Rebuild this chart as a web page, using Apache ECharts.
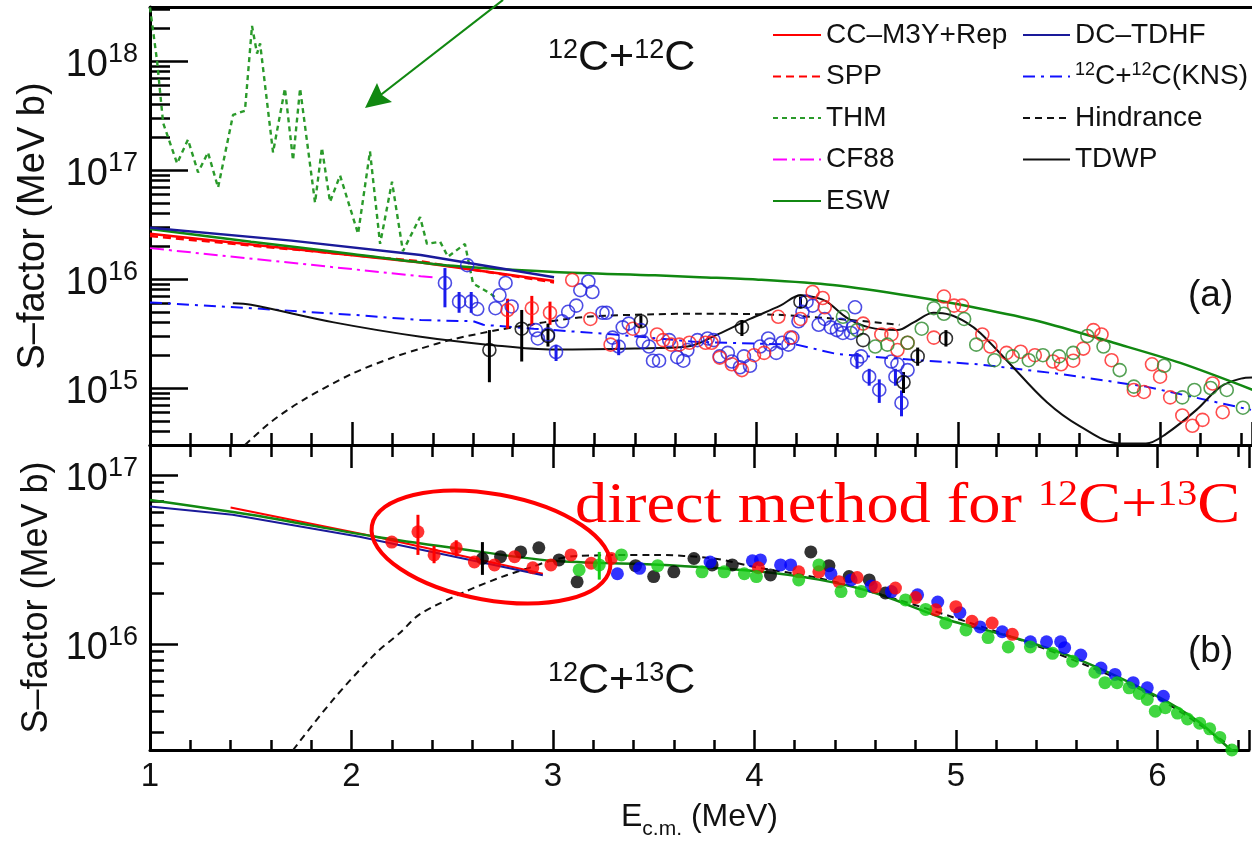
<!DOCTYPE html>
<html>
<head>
<meta charset="utf-8">
<script src="https://cdn.jsdelivr.net/npm/echarts@6/dist/echarts.min.js"></script>
<style>
  html, body { margin: 0; padding: 0; background: #fff; }
  #chart { width: 1252px; height: 843px; }
</style>
</head>
<body>
<div id="chart"></div>
<script>
// ---------- panel (a): 12C+12C ----------
var ccA = [[1, 2.6e16], [2.34, 1.42e16], [3.0, 9.6e15]];
var sppA = [[1, 2.48e16], [2.34, 1.45e16], [3.0, 9.3e15]];
var cf88A = [[1, 1.92e16], [2.34, 1.06e16], [2.42, 1.03e16]];
var tdhfA = [[1, 2.95e16], [1.7, 2.25e16], [2.34, 1.66e16], [3.0, 1.04e16]];
var eswA = [[1, 2.88e16], [1.5, 2.2e16], [2.0, 1.7e16], [2.5, 1.32e16], [3.0, 1.16e16], [3.5, 1.08e16],
  [3.72, 1.04e16], [4.0, 9.9e15], [4.38, 8.8e15], [4.78, 6.9e15], [5.1, 5.4e15], [5.4, 4.1e15],
  [5.77, 2.6e15], [6.1, 1.7e15], [6.46, 9.6e14]];
var knsA = [[1, 6.1e15], [1.5, 5.4e15], [2.0, 4.7e15], [2.34, 4.2e15], [2.6, 4.1e15], [2.65, 3.8e15],
  [2.9, 3.5e15], [3.3, 3.1e15], [3.7, 2.65e15], [4.2, 2.5e15], [4.4, 2.05e15], [4.8, 1.8e15],
  [5.1, 1.65e15], [5.5, 1.35e15], [5.93, 1.03e15], [6.45, 6.3e14]];
var hindA = [[1.47, 3.0e14], [1.6, 4.9e14], [1.76, 7.8e14], [2.0, 1.35e15], [2.2, 1.9e15], [2.34, 2.3e15],
  [2.5, 2.8e15], [2.72, 3.4e15], [2.95, 4.0e15], [3.16, 4.5e15], [3.5, 4.75e15], [3.72, 4.8e15],
  [4.1, 4.7e15], [4.47, 4.2e15], [4.71, 3.8e15]];
var tdwpA = [[1.41, 6.0e15], [1.5, 5.8e15], [1.91, 4.0e15], [2.34, 2.95e15], [2.67, 2.5e15], [3.0, 2.25e15],
  [3.4, 2.3e15], [3.66, 2.4e15], [3.81, 3.1e15], [3.97, 4.3e15], [4.12, 5.7e15], [4.22, 7.1e15],
  [4.29, 6.8e15], [4.35, 6.2e15], [4.45, 4.4e15], [4.56, 3.6e15], [4.70, 3.4e15], [4.78, 4.0e15],
  [4.88, 4.9e15], [4.96, 4.7e15], [5.04, 4.0e15], [5.11, 3.2e15], [5.24, 1.8e15], [5.44, 7.4e14],
  [5.6, 4.5e14], [5.8, 3.1e14], [5.93, 3.1e14], [6.03, 3.8e14], [6.18, 6.3e14], [6.3, 1.03e15],
  [6.4, 1.22e15], [6.46, 1.25e15]];
var thmA = [[1.0, 3.1e18], [1.035, 1.0e18], [1.065, 2.7e17], [1.134, 1.15e17], [1.188, 1.9e17],
  [1.238, 9.5e16], [1.287, 1.45e17], [1.337, 6.9e16], [1.411, 3.2e17], [1.47, 3.5e17], [1.505, 2.1e18],
  [1.53, 1.17e18], [1.545, 1.45e18], [1.609, 1.45e17], [1.668, 5.6e17], [1.708, 1.23e17], [1.743, 5.6e17],
  [1.817, 5.0e16], [1.851, 1.6e17], [1.891, 5.1e16], [1.941, 8.9e16], [2.03, 2.6e16], [2.089, 1.48e17],
  [2.139, 2.1e16], [2.198, 7.8e16], [2.252, 1.8e16], [2.337, 3.7e16], [2.371, 2.1e16], [2.436, 2.2e16],
  [2.475, 1.6e16], [2.559, 2.1e16], [2.599, 9.1e15], [2.683, 7.4e15], [2.708, 6.8e15]];

var blueA = [[2.46, 9.2e15], [2.57, 1.34e16], [2.53, 6.2e15], [2.59, 6.2e15], [2.62, 5.3e15], [2.71, 5.4e15],
  [2.73, 7.1e15], [2.76, 9.2e15], [2.79, 5.6e15], [2.91, 3.4e15], [2.92, 2.85e15], [2.97, 3.1e15],
  [3.01, 2.14e15], [3.04, 4.1e15], [3.07, 5.0e15], [3.11, 5.7e15], [3.13, 7.9e15], [3.17, 9.5e15],
  [3.19, 7.6e15], [3.24, 4.9e15], [3.26, 4.9e15], [3.29, 2.9e15], [3.32, 2.4e15], [3.34, 3.6e15],
  [3.37, 3.9e15], [3.43, 3.4e15], [3.44, 2.65e15], [3.47, 2.4e15], [3.49, 1.78e15], [3.52, 1.78e15],
  [3.57, 2.75e15], [3.61, 1.92e15], [3.64, 1.78e15], [3.66, 2.23e15], [3.71, 2.75e15], [3.76, 2.85e15],
  [3.79, 2.75e15], [3.82, 1.95e15], [3.86, 2.1e15], [3.88, 1.75e15], [3.92, 1.55e15], [3.94, 1.95e15],
  [3.97, 1.6e15], [4.02, 2.4e15], [4.06, 2.85e15], [4.07, 2.5e15], [4.10, 2.1e15], [4.13, 2.6e15],
  [4.16, 2.5e15], [4.18, 2.9e15], [4.21, 4.1e15], [4.23, 5.0e15], [4.25, 6.2e15], [4.28, 5.7e15],
  [4.31, 3.8e15], [4.34, 4.3e15], [4.37, 3.6e15], [4.40, 3.4e15], [4.42, 3.8e15], [4.43, 3.2e15],
  [4.47, 3.2e15], [4.49, 5.5e15], [4.48, 3.6e15], [4.50, 1.78e15], [4.52, 1.95e15], [4.56, 1.27e15],
  [4.61, 9.6e14], [4.67, 1.75e15], [4.70, 1.65e15], [4.69, 1.27e15], [4.75, 1.46e15], [4.72, 7.3e14]];
var redA = [[2.77, 5.2e15], [2.89, 5.4e15], [2.98, 4.9e15], [3.09, 9.8e15], [3.18, 4.3e15], [3.28, 2.5e15],
  [3.39, 3.5e15], [3.51, 3.1e15], [3.54, 2.75e15], [3.58, 2.5e15], [3.62, 2.5e15], [3.67, 2.6e15],
  [3.75, 2.6e15], [3.78, 2.6e15], [3.82, 1.9e15], [3.88, 1.65e15], [3.93, 1.46e15], [3.99, 2.0e15],
  [4.04, 2.1e15], [4.11, 4.5e15], [4.17, 2.9e15], [4.22, 4.3e15], [4.28, 7.6e15], [4.33, 6.7e15],
  [4.34, 5.5e15], [4.53, 3.9e15], [4.62, 3.1e15], [4.67, 3.1e15], [4.70, 2.23e15], [4.75, 2.6e15],
  [4.88, 2.9e15], [4.93, 6.9e15], [4.98, 5.7e15], [5.02, 5.7e15], [5.12, 3.1e15], [5.16, 2.4e15],
  [5.24, 2.1e15], [5.31, 2.15e15], [5.38, 2.0e15], [5.47, 1.75e15], [5.51, 1.65e15], [5.57, 1.78e15],
  [5.62, 2.3e15], [5.67, 3.4e15], [5.71, 3.1e15], [5.76, 1.8e15], [5.87, 9.6e14], [5.92, 9.2e14],
  [5.96, 1.65e15], [6.00, 1.27e15], [6.05, 8.2e14], [6.11, 5.6e14], [6.16, 4.5e14], [6.21, 5.1e14],
  [6.26, 1.1e15], [6.31, 6.0e14]];
var greenA = [[4.43, 4.5e15], [4.50, 3.4e15], [4.59, 2.4e15], [4.65, 2.5e15], [4.75, 2.6e15], [4.82, 3.5e15],
  [4.88, 5.4e15], [4.93, 4.8e15], [5.03, 4.3e15], [5.09, 2.5e15], [5.18, 1.8e15], [5.27, 1.95e15],
  [5.35, 1.8e15], [5.42, 2.0e15], [5.50, 1.95e15], [5.57, 2.1e15], [5.64, 3.0e15], [5.72, 2.4e15],
  [5.80, 1.46e15], [5.87, 1.03e15], [6.02, 1.6e15], [6.11, 8.2e14], [6.17, 9.6e14], [6.25, 1.0e15],
  [6.33, 9.6e14], [6.41, 6.6e14], [6.46, 6.4e14]];
var blackA = [[2.68, 2.23e15], [2.84, 3.5e15], [2.97, 3.0e15], [3.43, 4.1e15], [3.93, 3.6e15], [4.22, 6.2e15],
  [4.53, 2.75e15], [4.73, 1.13e15], [4.80, 1.95e15], [4.94, 2.85e15]];
// error bars: [E, low, high]
var blueErrA = [[2.46, 5.5e15, 1.26e16], [2.53, 4.9e15, 7.6e15], [2.59, 4.9e15, 7.6e15], [3.01, 1.77e15, 2.5e15],
  [3.32, 2.0e15, 2.75e15], [4.50, 1.5e15, 2.1e15], [4.56, 1.05e15, 1.5e15], [4.61, 7.3e14, 1.2e15],
  [4.69, 1.05e15, 1.5e15], [4.72, 5.5e14, 9.5e14]];
var redErrA = [[2.77, 3.5e15, 6.6e15], [2.89, 3.7e15, 7.0e15], [2.98, 3.8e15, 6.2e15]];
var blackErrA = [[2.68, 1.13e15, 3.4e15], [2.84, 1.75e15, 5.2e15], [2.97, 2.4e15, 3.9e15], [3.43, 3.6e15, 4.6e15],
  [3.93, 3.0e15, 4.2e15], [4.22, 5.4e15, 6.9e15], [4.73, 9e14, 1.4e15], [4.80, 1.6e15, 2.35e15],
  [4.94, 2.4e15, 3.4e15]];

// ---------- panel (b): 12C+13C ----------
var ccB = [[1.4, 6.4e16], [2.12, 4.3e16], [2.95, 2.6e16]];
var tdhfB = [[1, 6.5e16], [1.41, 5.8e16], [2.04, 4.3e16], [2.95, 2.55e16]];
var eswB = [[1, 7.1e16], [1.5, 5.8e16], [2.12, 4.3e16], [2.5, 3.7e16], [3.0, 3.1e16], [3.5, 2.95e16],
  [4.0, 2.7e16], [4.32, 2.4e16], [4.6, 2.0e16], [4.96, 1.39e16], [5.3, 1.08e16], [5.62, 8.0e15],
  [6.0, 4.9e15], [6.2, 3.5e15], [6.36, 2.4e15], [6.45, 2.0e15]];
var hindB = [[1.71, 2.36e15], [1.91, 4.7e15], [2.12, 8.8e15], [2.24, 1.16e16], [2.34, 1.5e16], [2.57, 2.05e16],
  [2.75, 2.5e16], [2.9, 2.86e16], [2.97, 3.06e16], [3.1, 3.3e16], [3.5, 3.36e16], [3.8, 3.2e16],
  [4.0, 2.85e16], [4.32, 2.45e16], [4.6, 2.0e16], [5.0, 1.42e16], [5.5, 8.8e15], [6.0, 4.8e15],
  [6.36, 2.5e15]];

var redB = [[2.20, 4.0e16], [2.33, 4.6e16], [2.41, 3.36e16], [2.52, 3.7e16], [2.61, 3.05e16], [2.71, 2.93e16],
  [2.81, 3.28e16], [2.90, 2.82e16], [2.99, 2.93e16], [3.09, 3.36e16], [3.19, 3.0e16], [3.29, 3.2e16],
  [4.02, 2.82e16], [4.22, 2.67e16], [4.32, 2.67e16], [4.42, 2.33e16], [4.51, 2.47e16], [4.60, 2.17e16],
  [4.70, 2.14e16], [4.80, 1.88e16], [4.90, 1.59e16], [5.00, 1.66e16], [5.08, 1.36e16], [5.18, 1.33e16],
  [5.28, 1.14e16]];
var blackB = [[2.65, 3.2e16], [2.74, 3.28e16], [2.84, 3.5e16], [2.93, 3.7e16], [3.03, 3.14e16], [3.12, 2.33e16],
  [3.41, 2.9e16], [3.50, 2.5e16], [3.60, 2.67e16], [3.70, 3.2e16], [3.79, 2.93e16], [3.89, 2.93e16],
  [4.08, 2.56e16], [4.28, 3.5e16], [4.37, 2.9e16], [4.47, 2.5e16], [4.57, 2.39e16], [4.65, 2.0e16]];
var blueB = [[3.32, 2.6e16], [3.43, 2.8e16], [3.78, 3.05e16], [3.99, 3.1e16], [4.03, 3.14e16], [4.13, 2.93e16],
  [4.18, 2.93e16], [4.38, 2.6e16], [4.48, 2.39e16], [4.58, 2.2e16], [4.68, 2.04e16], [4.81, 1.95e16],
  [4.91, 1.77e16], [5.02, 1.53e16], [5.12, 1.26e16], [5.23, 1.18e16], [5.37, 1.03e16], [5.45, 1.03e16],
  [5.52, 1.03e16], [5.54, 9.5e15], [5.62, 8.6e15], [5.72, 7.2e15], [5.79, 6.6e15], [5.88, 5.9e15],
  [5.95, 5.5e15], [6.03, 4.9e15]];
var greenB = [[3.13, 2.74e16], [3.23, 2.93e16], [3.34, 3.36e16], [3.52, 2.9e16], [3.74, 2.67e16], [3.85, 2.67e16],
  [3.95, 2.6e16], [4.01, 2.5e16], [4.22, 2.39e16], [4.32, 2.93e16], [4.43, 2.04e16], [4.53, 2.04e16],
  [4.75, 1.82e16], [4.85, 1.6e16], [4.95, 1.33e16], [5.05, 1.21e16], [5.16, 1.09e16], [5.26, 9.6e15],
  [5.37, 9.6e15], [5.48, 8.8e15], [5.58, 7.9e15], [5.69, 6.8e15], [5.74, 5.9e15], [5.80, 5.9e15],
  [5.86, 5.5e15], [5.91, 5.1e15], [5.95, 4.7e15], [5.99, 4.0e15], [6.04, 4.2e15], [6.10, 3.9e15],
  [6.15, 3.6e15], [6.21, 3.4e15], [6.26, 3.15e15], [6.31, 2.8e15], [6.37, 2.36e15]];
var redErrB = [[2.33, 3.36e16, 5.8e16], [2.41, 3.0e16, 3.8e16], [2.52, 3.3e16, 4.1e16]];
var blackErrB = [[2.65, 2.56e16, 4.0e16]];
var greenErrB = [[3.23, 2.4e16, 3.5e16]];

var xTicks = [1, 2, 3, 4, 5, 6];

var FONT = 'Liberation Sans';
var chart = echarts.init(document.getElementById('chart'));

function line(name, data, color, dash, gi, width, smooth) {
  return {
    name: name, type: 'line', xAxisIndex: gi === 0 ? 0 : 2, yAxisIndex: gi, data: data,
    symbol: 'none', smooth: smooth || false, z: 2, silent: true,
    lineStyle: { color: color, width: width || 2, type: dash || 'solid' },
    itemStyle: { color: color }
  };
}
function dots(data, color, gi, open) {
  return {
    type: 'scatter', xAxisIndex: gi === 0 ? 0 : 2, yAxisIndex: gi, data: data,
    symbol: 'circle', symbolSize: 13, z: 4, silent: true,
    itemStyle: open ? { color: 'rgba(255,255,255,0)', borderColor: color, borderWidth: 1.6 } : { color: color }
  };
}
function errs(data, color, gi, w) {
  return {
    type: 'custom', xAxisIndex: gi === 0 ? 0 : 2, yAxisIndex: gi, data: data, z: 3, silent: true,
    renderItem: function (params, api) {
      var a = api.coord([api.value(0), api.value(1)]);
      var b = api.coord([api.value(0), api.value(2)]);
      return { type: 'line', shape: { x1: a[0], y1: a[1], x2: b[0], y2: b[1] },
        style: { stroke: color, lineWidth: w || 3 } };
    }
  };
}
function logLabel(v) {
  var e = Math.log10(v), r = Math.round(e);
  if (Math.abs(e - r) > 1e-6) return '';
  return '{b|10}{s|' + r + '}';
}
function xLabel(v) {
  return xTicks.indexOf(Math.round(v * 1000) / 1000) >= 0 ? String(v) : '';
}

var axisLine = { lineStyle: { color: '#000', width: 3 } };
function xAx(gi, pos, tickLen, minorLen, labels) {
  return {
    type: 'value', gridIndex: gi, position: pos, min: 1, max: 6.455, interval: 1,
    axisLine: axisLine,
    axisTick: { show: tickLen > 0, inside: true, length: tickLen, lineStyle: { color: '#000', width: 2.5 } },
    minorTick: { show: minorLen > 0, splitNumber: 5, length: minorLen, lineStyle: { color: '#000', width: 2.5 } },
    splitLine: { show: false },
    axisLabel: labels ? { show: true, formatter: xLabel, fontFamily: FONT, fontSize: 33, color: '#111', margin: 10 }
      : { show: false }
  };
}
function yAx(gi, min, max, tickLen, minorLen, name, nameGap, nameSize) {
  return {
    type: 'log', logBase: 10, gridIndex: gi, min: min, max: max,
    axisLine: axisLine,
    axisTick: { inside: true, length: tickLen, lineStyle: { color: '#000', width: 2.5 } },
    minorTick: { show: true, splitNumber: 9, length: minorLen, lineStyle: { color: '#000', width: 2.5 } },
    splitLine: { show: false },
    axisLabel: {
      formatter: logLabel, margin: 12, color: '#111',
      rich: {
        b: { fontFamily: FONT, fontSize: 38, lineHeight: 40, color: '#111', padding: [10, 0, 0, 0] },
        s: { fontFamily: FONT, fontSize: 27, lineHeight: 27, verticalAlign: 'top', color: '#111' }
      }
    },
    name: name, nameLocation: 'middle', nameGap: nameGap,
    nameTextStyle: { fontFamily: FONT, fontSize: nameSize, color: '#111' }
  };
}

var supRich = function (base, sup, family) {
  return {
    n: { fontFamily: family || FONT, fontSize: base, lineHeight: base, verticalAlign: 'bottom', fill: 'inherit' },
    s: { fontFamily: family || FONT, fontSize: sup, lineHeight: sup, verticalAlign: 'top' }
  };
};

var option = {
  animation: false,
  backgroundColor: '#fff',
  grid: [
    { left: 150, top: 7, width: 1102, height: 438 },
    { left: 150, top: 445, width: 1102, height: 305 }
  ],
  xAxis: [
    xAx(0, 'bottom', 23, 12, false),
    xAx(0, 'top', 0, 0, false),
    xAx(1, 'top', 23, 12, false),
    Object.assign(xAx(1, 'bottom', 20, 10, true), {
      name: '{n|E}{sub|c.m.}{n| (MeV)}', nameLocation: 'middle', nameGap: 50,
      nameTextStyle: { rich: {
        n: { fontFamily: FONT, fontSize: 32, color: '#111', lineHeight: 34 },
        sub: { fontFamily: FONT, fontSize: 21, color: '#111', verticalAlign: 'bottom', lineHeight: 20, padding: [0, 0, -6, 0] }
      } }
    })
  ],
  yAxis: [
    yAx(0, 3.0e14, 3.13e18, 38, 20, 'S–factor (MeV b)', 97, 38),
    yAx(1, 2.36e15, 1.5e17, 28, 14, 'S–factor (MeV b)', 90, 36)
  ],
  legend: [
    {
      data: ['CC–M3Y+Rep', 'SPP', 'THM', 'CF88', 'ESW'], left: 772, top: 20, padding: 0,
      orient: 'vertical', itemWidth: 48, itemHeight: 14, itemGap: 11.5, selectedMode: false,
      itemStyle: { opacity: 0 },
      textStyle: { fontFamily: FONT, fontSize: 28, color: '#111', lineHeight: 30 }
    },
    {
      data: ['DC–TDHF', 'KNS', 'Hindrance', 'TDWP'], left: 1022, top: 20, padding: 0,
      orient: 'vertical', itemWidth: 47, itemHeight: 14, itemGap: 11.5, selectedMode: false,
      itemStyle: { opacity: 0 },
      formatter: function (n) { return n === 'KNS' ? '{s|12}{t|C+}{s|12}{t|C(KNS)}' : n; },
      textStyle: { fontFamily: FONT, fontSize: 28, color: '#111', lineHeight: 30,
        rich: {
          t: { fontFamily: FONT, fontSize: 28, color: '#111', lineHeight: 30 },
          s: { fontFamily: FONT, fontSize: 18, color: '#111', lineHeight: 18, verticalAlign: 'top' }
        } }
    }
  ],
  graphic: [
    { type: 'text', left: 548, top: 37, style: { text: '{s|12}{n|C+}{s|12}{n|C}', rich: supRich(43, 27), fill: '#111' } },
    { type: 'text', left: 548, top: 660, style: { text: '{s|12}{n|C+}{s|13}{n|C}', rich: supRich(43, 27), fill: '#111' } },
    { type: 'text', left: 1188, top: 277, style: { text: '(a)', fontFamily: FONT, fontSize: 37, fill: '#111' } },
    { type: 'text', left: 1188, top: 633, style: { text: '(b)', fontFamily: FONT, fontSize: 37, fill: '#111' } },
    { type: 'text', x: 575, y: 478, scaleX: 1.11, z: 20, style: {
        text: '{n|direct method for }{s|12}{n|C+}{s|13}{n|C}', fill: '#f00',
        rich: {
          n: { fontFamily: 'Liberation Serif', fontSize: 58, lineHeight: 58, fill: '#f00' },
          s: { fontFamily: 'Liberation Serif', fontSize: 36, lineHeight: 36, verticalAlign: 'top', fill: '#f00' }
        } } },
    { type: 'ellipse', z: 20, shape: { cx: 491, cy: 547, rx: 121, ry: 53 }, rotation: -0.178, originX: 491, originY: 547,
      style: { fill: 'none', stroke: '#f00', lineWidth: 4 } },
    { type: 'line', z: 20, shape: { x1: 503, y1: 0, x2: 378, y2: 97 }, style: { stroke: '#118811', lineWidth: 2.2 } },
    { type: 'polygon', z: 20, shape: { points: [[365, 108], [377, 83], [382, 95], [392, 102]] }, style: { fill: '#118811' } }
  ],
  series: [
    line('THM', thmA, '#2a9a2a', [5, 4], 0, 2.4),
    line('CF88', cf88A, '#ff00ff', [14, 5, 3, 5], 0, 2),
    line('KNS', knsA, '#1010ff', [12, 6, 3, 6], 0, 2),
    line('Hindrance', hindA, '#111', [7, 5], 0, 2, 0.3),
    line('TDWP', tdwpA, '#111', 'solid', 0, 2, 0.35),
    line('SPP', sppA, '#ff0000', [8, 5], 0, 2.5),
    line('CC–M3Y+Rep', ccA, '#ff0000', 'solid', 0, 2.5),
    line('ESW', eswA, '#118811', 'solid', 0, 2.5, 0.3),
    line('DC–TDHF', tdhfA, '#1a1a9a', 'solid', 0, 2.5),
    errs(blueErrA, '#1a1aee', 0, 3),
    errs(redErrA, '#ff0000', 0, 3),
    errs(blackErrA, '#000', 0, 3),
    dots(blueA, '#2020dd', 0, true),
    dots(redA, '#ff2020', 0, true),
    dots(greenA, '#2a8a2a', 0, true),
    dots(blackA, '#000', 0, true),

    line('Hindrance', hindB, '#111', [7, 5], 1, 2, 0.3),
    errs(redErrB, '#ff0000', 1, 3),
    errs(blackErrB, '#000', 1, 3),
    errs(greenErrB, '#11cc11', 1, 3),
    dots(blackB, '#000', 1, false),
    dots(blueB, '#0000ff', 1, false),
    dots(redB, '#ff0000', 1, false),
    dots(greenB, '#11cc11', 1, false),
    line('CC–M3Y+Rep', ccB, '#ff0000', 'solid', 1, 2),
    line('DC–TDHF', tdhfB, '#1a1a9a', 'solid', 1, 2),
    line('ESW', eswB, '#118811', 'solid', 1, 2.5, 0.3)
  ]
};
chart.setOption(option);
</script>
</body>
</html>
